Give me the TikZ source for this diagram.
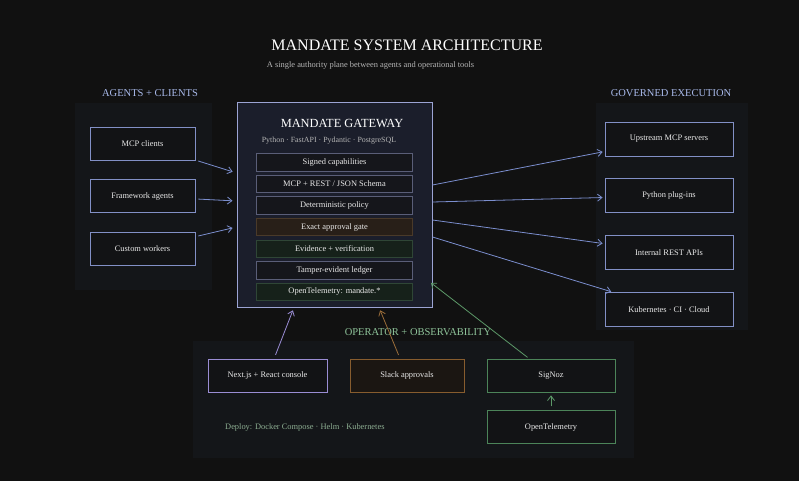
\documentclass[tikz,border=0pt]{standalone}
\usepackage{fontspec}
\setmainfont{Liberation Serif}
\usetikzlibrary{positioning,matrix,arrows.meta,calc}

\definecolor{bgdark}{HTML}{111111}
\definecolor{panelbg}{HTML}{141619}
\definecolor{boxbg}{HTML}{121315}
\definecolor{boxline}{HTML}{8290C6}
\definecolor{flowblue}{HTML}{7B8ECE}
\definecolor{headblue}{HTML}{A9BAEB}
\definecolor{gatebg}{HTML}{1B1E2B}
\definecolor{gateline}{HTML}{9CA4D4}
\definecolor{layerbg}{HTML}{15161B}
\definecolor{layerline}{HTML}{5A5E78}
\definecolor{amberbg}{HTML}{281F18}
\definecolor{amberline}{HTML}{4A3A29}
\definecolor{greenbg}{HTML}{16211A}
\definecolor{greenline}{HTML}{2F4636}
\definecolor{consoleline}{HTML}{9A8DD4}
\definecolor{slackline}{HTML}{875C2E}
\definecolor{slackflow}{HTML}{9C6E3A}
\definecolor{slackbg}{HTML}{1B1612}
\definecolor{obsline}{HTML}{4C8459}
\definecolor{obsflow}{HTML}{5C9868}
\definecolor{obshead}{HTML}{8FC49A}
\definecolor{deploytxt}{HTML}{8DAE92}
\definecolor{maintxt}{HTML}{EAEAEA}
\definecolor{subtxt}{HTML}{B5B5B5}

\begin{document}
\begin{tikzpicture}[x=1pt,y=-1pt,
    every node/.style={text=maintxt,font=\fontsize{8.4}{10}\selectfont,inner sep=0pt},
    sidebox/.style={draw=boxline,fill=boxbg,line width=0.8pt,minimum width=105pt,minimum height=33pt},
    execbox/.style={sidebox,minimum width=128pt,minimum height=34pt},
    opbox/.style={draw=obsline,fill=boxbg,line width=0.8pt,minimum width=128pt,minimum height=33pt},
    layer/.style={draw=layerline,fill=layerbg,line width=0.7pt,minimum width=156pt,minimum height=17.5pt},
    amberlayer/.style={draw=amberline,fill=amberbg},
    greenlayer/.style={draw=greenline,fill=greenbg},
    heading/.style={font=\fontsize{10.5}{12}\selectfont,text=headblue},
    flow/.style={-{Straight Barb[length=4.5pt,width=7pt]},line width=0.8pt,draw=flowblue}]
    \useasboundingbox (0,0) rectangle (799,481);
    \fill[bgdark] (0,0) rectangle (799,481);
    %%%%% THE PANELS
    \fill[panelbg] (75,103) rectangle (212,290);
    \fill[panelbg] (596,103) rectangle (748,330);
    \fill[panelbg] (193,341) rectangle (634,458);
    %%%%% TITLES
    \node[font=\fontsize{16}{19}\selectfont,text=white] (title) at (407,45) {MANDATE SYSTEM ARCHITECTURE};
    \node[text=subtxt] (subtitle) at (370.5,65) {A single authority plane between agents and operational tools};
    \node[heading] (agentshead) at (150,93) {AGENTS + CLIENTS};
    \node[heading] (exechead) at (671,93) {GOVERNED EXECUTION};
    \node[heading,text=obshead] (ophead) at (418,332) {OPERATOR + OBSERVABILITY};
    %%%%% THE GATEWAY
    \node[draw=gateline,fill=gatebg,line width=1pt,minimum width=195pt,minimum height=204pt] (gw) at (334.5,205) {};
    \node[font=\fontsize{12.4}{14}\selectfont,text=white] (gwname) at (342,123) {MANDATE GATEWAY};
    \node[text=subtxt,font=\fontsize{7.9}{9}\selectfont] (gwstack) at (329,141) {Python · FastAPI · Pydantic · PostgreSQL};
    \matrix (layers) at (334.5,227) [matrix of nodes, row sep=3.4pt, nodes={layer}]{
        Signed capabilities \\
        MCP + REST / JSON Schema \\
        Deterministic policy \\
        |[amberlayer]| Exact approval gate \\
        |[greenlayer]| Evidence + verification \\
        Tamper-evident ledger \\
        |[greenlayer]| OpenTelemetry: mandate.* \\
    };
    %%%%% AGENTS + CLIENTS
    \node[sidebox] (mcp) at (142.5,143.5) {MCP clients};
    \node[sidebox,below=19pt of mcp] (framework) {Framework agents};
    \node[sidebox,below=19pt of framework] (workers) {Custom workers};
    %%%%% GOVERNED EXECUTION
    \node[execbox] (upstream) at (669,139) {Upstream MCP servers};
    \node[execbox,below=22pt of upstream] (plugins) {Python plug-ins};
    \node[execbox,below=22pt of plugins] (restapis) {Internal REST APIs};
    \node[execbox,below=22pt of restapis] (cloud) {Kubernetes · CI · Cloud};
    %%%%% OPERATOR + OBSERVABILITY
    \node[opbox,draw=consoleline,minimum width=119pt] (console) at (267.5,375.5) {Next.js + React console};
    \node[opbox,draw=slackline,fill=slackbg,minimum width=114pt] (slack) at (407,375.5) {Slack approvals};
    \node[opbox] (signoz) at (551,375.5) {SigNoz};
    \node[opbox,below=18pt of signoz] (otel) {OpenTelemetry};
    \node[text=deploytxt,anchor=west] (deploy) at (225,427) {Deploy: Docker Compose · Helm · Kubernetes};
    %%%% LINKS INTO THE GATEWAY
    \draw[flow,shorten <=3pt,shorten >=4pt] (mcp) -- ($(gw.west)+(0,-32)$);
    \draw[flow,shorten <=3pt,shorten >=4pt] (framework) -- ($(gw.west)+(0,-4)$);
    \draw[flow,shorten <=3pt,shorten >=4pt] (workers) -- ($(gw.west)+(0,22)$);
    %%%% LINKS OUT OF THE GATEWAY
    \draw[flow,shorten >=2pt] ($(gw.east)+(0,-20)$) -- (upstream);
    \draw[flow,shorten >=2pt] ($(gw.east)+(0,-3)$) -- (plugins);
    \draw[flow,shorten >=2pt] ($(gw.east)+(0,15)$) -- (restapis);
    \draw[flow,shorten >=1pt] ($(gw.east)+(0,32)$) -- (cloud);
    %%%% OPERATOR LINKS
    \draw[flow,draw=consoleline,shorten <=4pt,shorten >=3pt] (console) -- ($(gw.south)+(-40.5,0)$);
    \draw[flow,draw=slackflow,shorten <=4pt,shorten >=3pt] (slack) -- ($(gw.south)+(44.5,0)$);
    \draw[flow,draw=obsflow,shorten <=2pt,shorten >=-2pt] (signoz) -- ($(gw.east)+(0,79)$);
    \draw[flow,draw=obsflow,shorten <=4pt,shorten >=3pt] (otel) -- (signoz);
\end{tikzpicture}
\end{document}
